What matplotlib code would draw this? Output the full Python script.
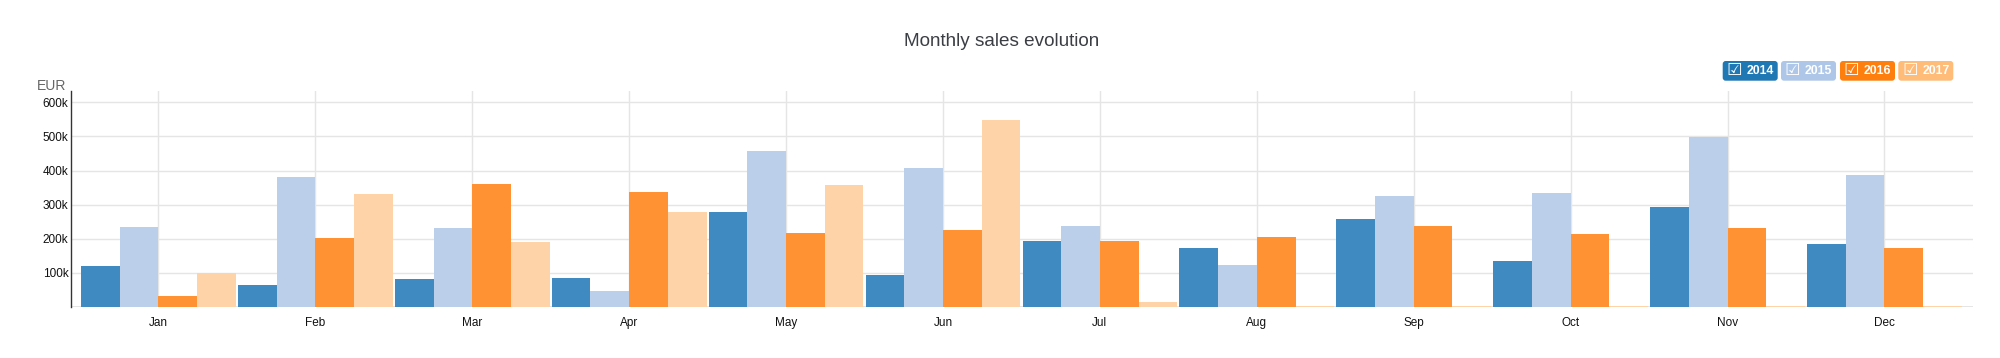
import matplotlib
matplotlib.use("Agg")
import matplotlib.pyplot as plt
import numpy as np
from matplotlib.patches import FancyBboxPatch
from matplotlib.transforms import IdentityTransform

months = ["Jan", "Feb", "Mar", "Apr", "May", "Jun", "Jul", "Aug", "Sep", "Oct", "Nov", "Dec"]
years = ["2014", "2015", "2016", "2017"]
sales_2014 = [120000, 64000, 82000, 85000, 277000, 95000, 192000, 174000, 259000, 135000, 294000, 185000]
sales_2015 = [235000, 381000, 232000, 47000, 458000, 406000, 238000, 124000, 326000, 335000, 497000, 388000]
sales_2016 = [32000, 202000, 361000, 337000, 218000, 227000, 192000, 206000, 238000, 214000, 232000, 173000]
sales_2017 = [101000, 331000, 191000, 279000, 359000, 549000, 16000, 3000, 3000, 3000, 3000, 3000]
y_ticks = [100000, 200000, 300000, 400000, 500000, 600000]
y_tick_labels = ["100k", "200k", "300k", "400k", "500k", "600k"]

series = [sales_2014, sales_2015, sales_2016, sales_2017]
bar_colors = ["#3f8bc1", "#bbcfeb", "#ff9333", "#fed3a7"]
legend_colors = ["#1f77b4", "#aec7e8", "#ff7f0e", "#ffbb78"]

W, H = 2000, 358
fig = plt.figure(figsize=(W / 100, H / 100), dpi=100)
ax = fig.add_axes([71.3 / W, 1 - 307 / H, (1973 - 71.3) / W, (307 - 90.7) / H])

x = np.arange(len(months))
bw = 0.2465
for k, (vals, c) in enumerate(zip(series, bar_colors)):
    ax.bar(x + (k - 1.5) * bw, vals, width=bw, color=c, edgecolor="none", zorder=2)

ax.set_xlim(-0.555, 11.564)
ax.set_ylim(0, 634000)
ax.set_yticks(y_ticks)
ax.set_yticklabels(y_tick_labels)
ax.set_xticks(x)
ax.set_xticklabels(months)
ax.set_axisbelow(True)
ax.grid(True, color="#e5e5e5", linewidth=1)
ax.axhline(0, color="#e0e0e0", linewidth=1.2, zorder=1)

for s in ["top", "right", "bottom"]:
    ax.spines[s].set_visible(False)
ax.spines["left"].set_color("#333333")
ax.spines["left"].set_linewidth(1)

font = ["Liberation Sans", "DejaVu Sans"]
ax.tick_params(axis="both", length=0, labelsize=8.5, labelcolor="#111111")
ax.tick_params(axis="y", pad=2)
ax.tick_params(axis="x", pad=7)
for lab in ax.get_xticklabels() + ax.get_yticklabels():
    lab.set_family(font)

fig.text(66.7 / W, 1 - 90.5 / H, "EUR", ha="right", va="baseline", fontsize=10,
         color="#666666", family=font)
fig.text(1002 / W, 1 - 41 / H, "Monthly sales evolution", ha="center", va="center",
         fontsize=13.6, color="#3b3f45", family=font)

# legend
lx = [1722.7, 1781, 1840, 1898.3]
for xs, yr, c in zip(lx, years, legend_colors):
    box = FancyBboxPatch((xs, H - 80.7), 55, 19.7, boxstyle="round,pad=0,rounding_size=3",
                         transform=IdentityTransform(), fc=c, ec="none")
    fig.patches.append(box)
    fig.text(xs + 11.7, H - 70.3, "\u2611", ha="center", va="center", fontsize=12.5,
             color="white", family=["DejaVu Sans"], transform=IdentityTransform())
    fig.text(xs + 24, H - 70.8, yr, ha="left", va="center", fontsize=8.8,
             color="white", fontweight="bold", family=font, transform=IdentityTransform())

fig.savefig("out.png", dpi=100, facecolor="white")
